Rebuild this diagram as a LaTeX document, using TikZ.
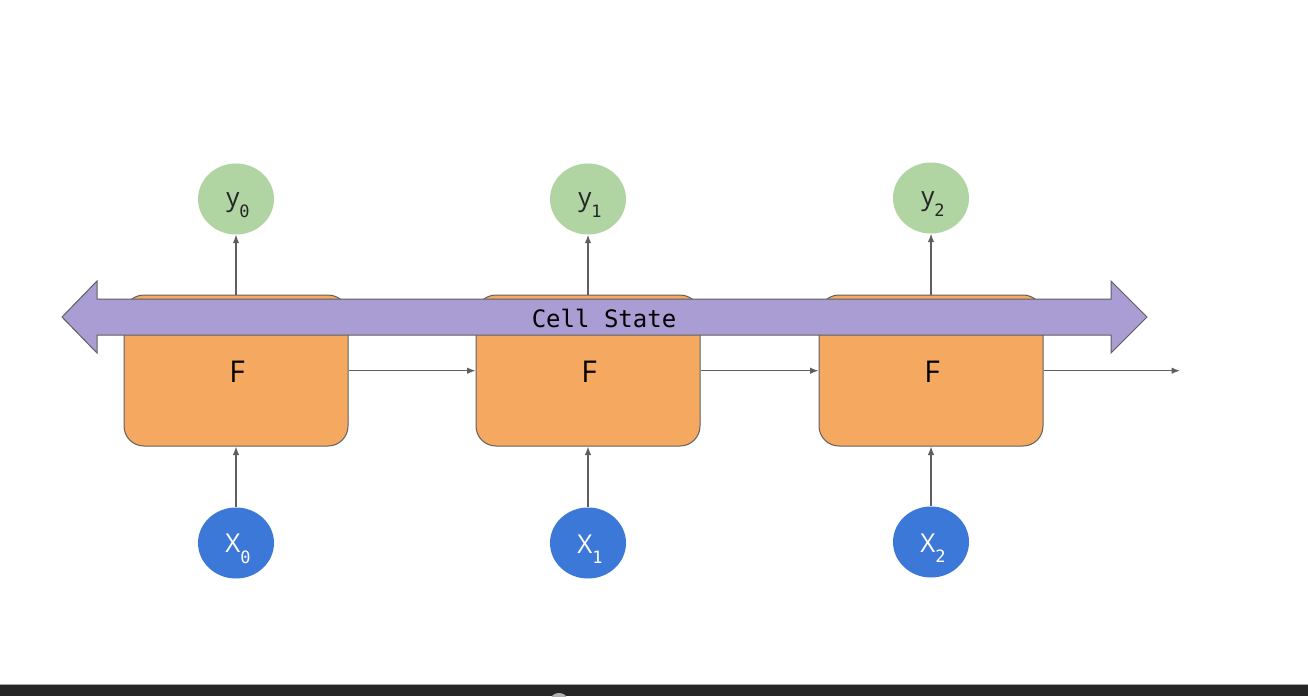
\documentclass[tikz,border=0pt]{standalone}
\usepackage{fontspec}
\setmainfont{Open Sans}
\newfontfamily\monofont{DejaVu Sans Mono}
\usetikzlibrary{shapes.geometric,arrows.meta}
\definecolor{cellorange}{HTML}{F5A85F}
\definecolor{cellpurple}{HTML}{A99DD3}
\definecolor{outgreen}{HTML}{B0D5A2}
\definecolor{inblue}{HTML}{3C78D8}
\definecolor{linegray}{HTML}{5F5F5F}
\definecolor{bardark}{HTML}{262626}
\tikzset{
  fbox/.style={draw=linegray, line width=1pt, fill=cellorange, rounded corners=20pt,
    minimum width=224pt, minimum height=151pt, inner sep=0pt},
  outnode/.style={ellipse, fill=outgreen, minimum width=76pt, minimum height=71pt, inner sep=0pt,
    font=\fontsize{26}{28}\selectfont, text=black!85},
  innode/.style={ellipse, fill=inblue, minimum width=76pt, minimum height=71pt, inner sep=0pt,
    font=\fontsize{26}{28}\selectfont, text=white},
  conn/.style={draw=linegray, line width=1.2pt, -{Latex[length=8.5pt,width=6.5pt]}},
  statearrow/.style={draw=linegray, line width=1pt, fill=cellpurple, line join=miter},
}
\newcommand{\subl}[1]{\raisebox{-0.4em}{\fontsize{17}{20}\selectfont\monofont #1}}
\begin{document}
\begin{tikzpicture}[x=1pt,y=-1pt]
\useasboundingbox (0,0) rectangle (1308,696);
\fill[white] (0,0) rectangle (1308,696);
% bottom dark bar
\fill[bardark] (0,684) rectangle (1308,696);
\draw[gray!70, line width=1pt] (0,684.5) -- (1308,684.5);
\begin{scope}
\clip (0,685) rectangle (1308,696);
\fill[gray!60] (559,699) ellipse (8pt and 6pt);
\end{scope}
% F boxes
\node[fbox] (f0) at (236,370.5) {};
\node[fbox] (f1) at (588,370.5) {};
\node[fbox] (f2) at (931,370.5) {};
\node (f0t) at (237,372) {\fontsize{30}{34}\selectfont F};
\node (f1t) at (589,372) {\fontsize{30}{34}\selectfont F};
\node (f2t) at (932,372) {\fontsize{30}{34}\selectfont F};
% output nodes
\node[outnode] (y0) at (236,199) {};
\node[outnode] (y1) at (588,199) {};
\node[outnode] (y2) at (931,198) {};
\node[font=\fontsize{26}{28}\selectfont, text=black!85] (y0t) at (238,205) {y\subl{0}};
\node[font=\fontsize{26}{28}\selectfont, text=black!85] (y1t) at (590,205) {y\subl{1}};
\node[font=\fontsize{26}{28}\selectfont, text=black!85] (y2t) at (933,204) {y\subl{2}};
% input nodes
\node[innode] (x0) at (236,543) {};
\node[innode] (x1) at (588,543) {};
\node[innode] (x2) at (931,542) {};
\node[font=\fontsize{26}{28}\selectfont, text=white] (x0t) at (238,549) {X\subl{0}};
\node[font=\fontsize{26}{28}\selectfont, text=white] (x1t) at (590,549) {X\subl{1}};
\node[font=\fontsize{26}{28}\selectfont, text=white] (x2t) at (933,548) {X\subl{2}};
% F -> y arrows (under the cell state)
\draw[conn] (f0.north) -- (y0.south);
\draw[conn] (f1.north) -- (y1.south);
\draw[conn] (f2.north) -- (y2.south);
% cell state double arrow
\draw[statearrow] (62,317) -- (97,281) -- (97,299) -- (1111,299) -- (1111,281) -- (1147,317)
  -- (1111,353) -- (1111,335) -- (97,335) -- (97,353) -- cycle;
\node (cs) at (604,318) {\fontsize{24}{26}\selectfont\monofont Cell State};
% x -> F arrows
\draw[conn] (x0.north) -- (f0.south);
\draw[conn] (x1.north) -- (f1.south);
\draw[conn] (x2.north) -- (f2.south);
% horizontal arrows
\coordinate (out) at (1180,370.7);
\draw[conn] (f0.east |- 0,370.7) -- (f1.west |- 0,370.7);
\draw[conn] (f1.east |- 0,370.7) -- (f2.west |- 0,370.7);
\draw[conn] (f2.east |- 0,370.7) -- (out);
\end{tikzpicture}
\end{document}
